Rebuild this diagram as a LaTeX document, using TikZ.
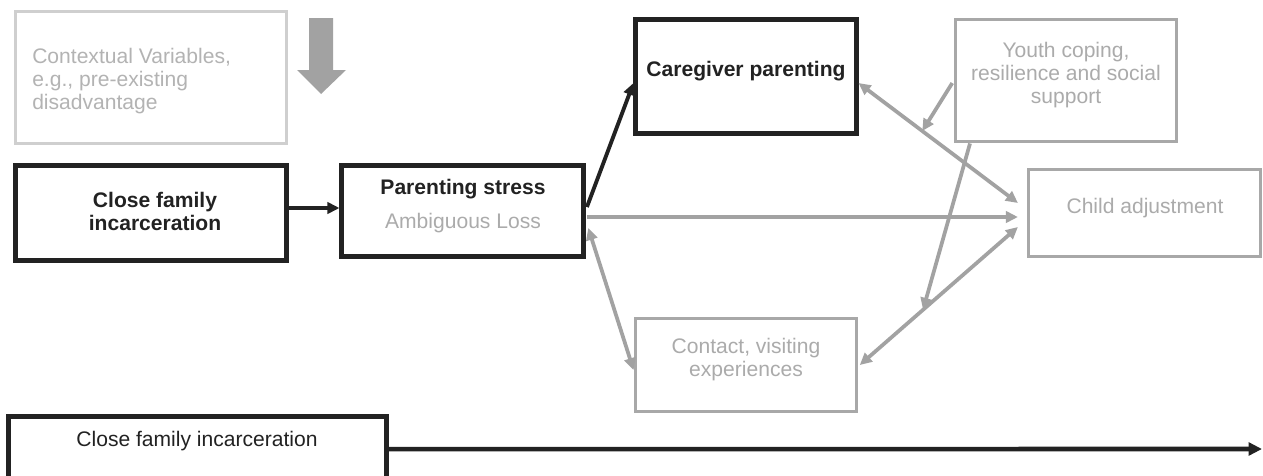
\documentclass[tikz,border=0pt]{standalone}
\usepackage{fontspec}
\setmainfont{Liberation Sans}
\usetikzlibrary{arrows.meta,calc}
\definecolor{ink}{HTML}{222222}
\definecolor{gbox}{HTML}{A8A8A8}
\definecolor{gtext}{HTML}{ABABAB}
\definecolor{cbox}{HTML}{CFCFCF}
\definecolor{ctext}{HTML}{B3B3B3}
\definecolor{garr}{HTML}{A2A2A2}
\tikzset{
  bbox/.style={draw=ink, line width=3.1pt, inner sep=0pt},
  gbx/.style={draw=gbox, line width=2.9pt, inner sep=0pt},
  cbx/.style={draw=cbox, line width=2.9pt, inner sep=0pt},
  txt/.style={inner sep=0pt, align=center},
  tip/.tip={Triangle[length=9pt,width=8.5pt]},
  barrow/.style={draw=ink, line width=2.9pt, -tip},
  garrow/.style={draw=garr, line width=2.8pt, -tip},
  gdarrow/.style={draw=garr, line width=2.8pt, tip-tip},
}
\begin{document}
\begin{tikzpicture}[x=0.75pt,y=-0.75pt,font=\fontsize{15.8}{17.5}\selectfont]
\clip (0,0) rectangle (1263,475);
\fill[white] (0,0) rectangle (1263,475);
% boxes
\node[cbx, minimum width=203.25pt, minimum height=99pt] (ctx) at (151,77.5) {};
\node[bbox, minimum width=203.25pt, minimum height=71.25pt] (close) at (151,213) {};
\node[bbox, minimum width=181.5pt, minimum height=68.25pt] (ps) at (462.5,211) {};
\node[bbox, minimum width=165.75pt, minimum height=85.5pt] (cg) at (746,76.5) {};
\node[gbx, minimum width=165.75pt, minimum height=91.5pt] (yc) at (1066,80.5) {};
\node[gbx, minimum width=174pt, minimum height=65.25pt] (ch) at (1144.5,213) {};
\node[gbx, minimum width=165.75pt, minimum height=69.75pt] (ct) at (746,365) {};
\node[bbox, minimum width=283.5pt, minimum height=60pt] (bot) at (197.5,456.5) {};
% texts
\node[txt, anchor=west, align=left, text=ctext, font=\fontsize{15.8}{17.2}\selectfont] (ctxT) at (32,81) {Contextual Variables,\\e.g., pre-existing\\disadvantage};
\node[txt, font=\fontsize{15.8}{17.5}\selectfont\bfseries, text=ink] (closeT) at (155,211.5) {Close family\\incarceration};
\node[txt, font=\fontsize{15.8}{17.5}\selectfont\bfseries, text=ink] (psT1) at (463,189) {Parenting stress};
\node[txt, text=gtext] (psT2) at (463,223) {Ambiguous Loss};
\node[txt, font=\fontsize{15.8}{17.5}\selectfont\bfseries, text=ink] (cgT) at (746,71) {Caregiver parenting};
\node[txt, text=gtext] (ycT) at (1066,75) {Youth coping,\\resilience and social\\support};
\node[txt, text=gtext] (chT) at (1145,208) {Child adjustment};
\node[txt, text=gtext] (ctT) at (746,359.5) {Contact, visiting\\experiences};
\node[txt, text=ink] (botT) at (197,441) {Close family incarceration};
% big gray down arrow
\fill[garr] (309,18) -- (333,18) -- (333,70) -- (346,70) -- (321,94) -- (297,70) -- (309,70) -- cycle;
% coordinates
\coordinate (cgR) at ([yshift=-4.9pt]cg.east);
\coordinate (chA) at ([xshift=-6.5pt,yshift=7.5pt]ch.west);
\coordinate (ctR) at ([xshift=1pt]ct.east);
\coordinate (chB) at ([xshift=-6.5pt,yshift=-10.5pt]ch.west);
\coordinate (end) at (1262,449);
% black connectors
\draw[barrow] ([yshift=3.75pt]close.east) -- ([yshift=2.25pt]ps.west);
\draw[barrow] ([xshift=1pt,yshift=3pt]ps.east) -- ([yshift=-4.9pt]cg.west);
\draw[line width=3.4pt, draw=ink, -{Triangle[length=10pt,width=9.5pt]}] ([yshift=5.6pt]bot.east) -- (end);
% gray connectors
\draw[garrow] ([xshift=1pt,yshift=-4.5pt]ps.east) coordinate (h1) -- (h1 -| chA);
\draw[gdarrow] (cgR) -- (chA);
\draw[gdarrow] ([xshift=2pt,yshift=-12.75pt]ps.east) -- ([yshift=-3.75pt]ct.west);
\draw[gdarrow] (ctR) -- (chB);
\draw[garrow] ([xshift=-1pt,yshift=-1.9pt]yc.west) -- ($(cgR)!0.4!(chA)$);
\draw[garrow] ([xshift=-72pt]yc.south) -- ($(ctR)!0.4!(chB)$);
\end{tikzpicture}
\end{document}
